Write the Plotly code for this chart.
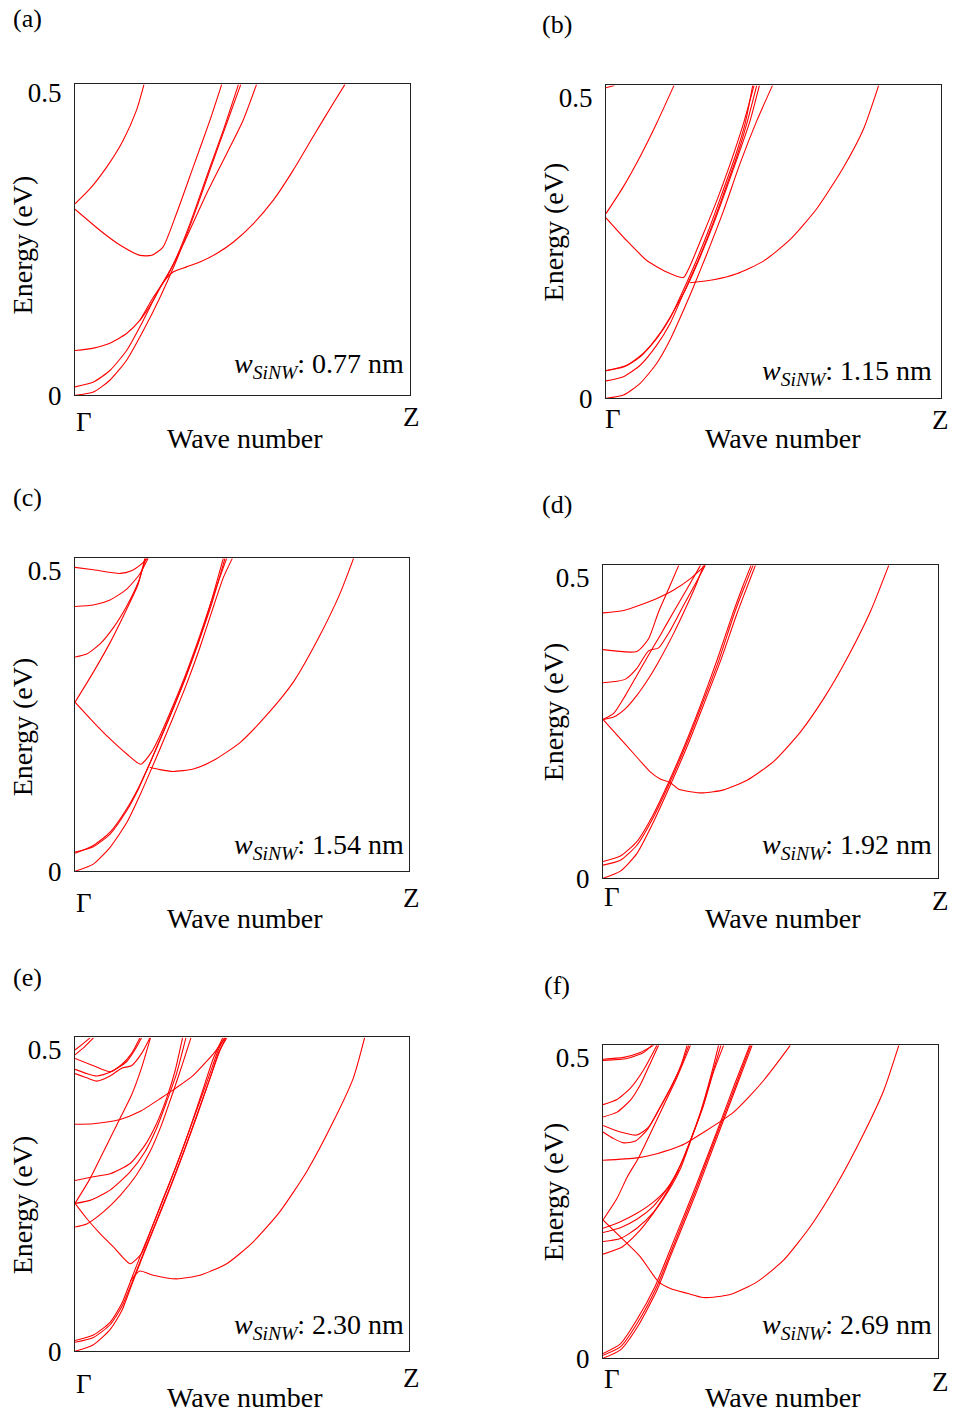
import plotly.graph_objects as go

# ---------------- data: bands as (k fraction of Gamma-Z, energy in eV) ----------------
bands_a = [
    ([0, .045, .095, .144, .184, .206], [.316, .341, .377, .421, .471, .513]),
    ([0, .075, .134, .194, .229, .262, .303, .353, .403, .438], [.307, .272, .248, .231, .231, .244, .300, .377, .454, .513]),
    ([0, .055, .104, .154, .204, .254, .303, .353, .403, .453, .495], [0, .0055, .025, .058, .107, .162, .223, .294, .372, .449, .513]),
    ([0, .055, .104, .154, .204, .244, .294, .343, .393, .443, .488], [.014, .022, .041, .074, .124, .168, .217, .283, .361, .438, .513]),
    ([0, .055, .104, .154, .194, .234, .264, .294, .333, .373, .423, .473, .532, .592, .652, .711, .771, .806],
     [.074, .078, .086, .102, .124, .157, .187, .204, .212, .220, .234, .253, .283, .322, .372, .427, .482, .513]),
    ([.194, .234, .274, .333, .393, .453, .502, .542], [.124, .162, .195, .261, .333, .399, .454, .513]),
]

bands_b = [
    ([0, .025], [.516, .52]),
    ([0, .051, .102, .152, .203], [.307, .351, .402, .458, .520]),
    ([0, .062, .122, .181, .231, .249, .291, .331, .371, .410, .442], [.300, .262, .229, .210, .201, .218, .274, .329, .390, .456, .520]),
    ([.251, .321, .390, .470, .550, .629, .709, .769, .814], [.192, .197, .207, .228, .264, .315, .384, .448, .520]),
    ([0, .052, .102, .151, .191, .231, .261, .301, .351, .400, .450, .497], [0, .0055, .025, .058, .097, .146, .185, .240, .312, .390, .461, .520]),
    ([0, .052, .102, .151, .191, .231, .271, .311, .351, .390, .420, .450], [.029, .036, .055, .088, .124, .174, .224, .279, .340, .401, .456, .520]),
    ([0, .052, .102, .151, .191, .231, .266, .306, .346, .385, .415, .438], [.046, .052, .069, .099, .133, .180, .224, .279, .340, .401, .456, .520]),
    ([0, .062, .112, .161, .201, .241, .281, .321, .361, .400, .430, .458], [.046, .055, .075, .108, .144, .185, .235, .290, .351, .412, .461, .520]),
]

bands_c = [
    ([0, .055, .135, .169, .204, .216], [.505, .501, .495, .4995, .513, .52]),
    ([0, .055, .105, .155, .194, .219], [.440, .4425, .451, .469, .494, .52]),
    ([0, .035, .075, .115, .155, .189, .212], [.356, .361, .378, .405, .441, .480, .52]),
    ([0, .055, .105, .155, .189, .209], [.281, .331, .380, .436, .477, .52]),
    ([0, .055, .105, .155, .197, .229, .254, .294, .334, .374, .414, .454], [.281, .248, .220, .195, .178, .198, .225, .276, .331, .392, .458, .52]),
    ([.224, .254, .294, .354, .414, .494, .573, .653, .733, .793, .834], [.173, .169, .166, .170, .184, .214, .259, .314, .392, .461, .52]),
    ([0, .055, .105, .155, .194, .224, .254, .294, .334, .374, .414, .444, .471], [0, .012, .040, .081, .126, .164, .203, .256, .311, .372, .439, .488, .52]),
    ([0, .055, .105, .155, .190, .219, .249, .289, .329, .369, .404, .444], [.032, .041, .062, .101, .137, .173, .212, .264, .320, .380, .441, .52]),
    ([0, .055, .105, .155, .192, .222, .252, .292, .332, .372, .409, .449], [.030, .043, .065, .104, .141, .177, .215, .268, .323, .384, .444, .52]),
]

bands_d = [
    ([0, .062, .111, .161, .211, .261, .305], [.441, .445, .454, .465, .479, .498, .52]),
    ([0, .101, .136, .166, .196, .226], [.380, .377, .398, .443, .481, .52]),
    ([0, .042, .067, .101, .136, .166, .201, .241, .281, .305], [.325, .3275, .331, .349, .378, .383, .412, .454, .495, .52]),
    ([0, .032, .067, .101, .136, .171, .211, .251, .291], [.264, .274, .304, .337, .371, .404, .443, .481, .52]),
    ([0, .032, .067, .101, .136, .171, .211, .251, .281, .300], [.264, .268, .282, .304, .332, .365, .407, .454, .492, .52]),
    ([0, .042, .092, .141, .171, .201, .226, .261, .300, .360, .430, .509, .589, .659, .728, .798, .853],
     [.264, .238, .207, .177, .165, .159, .148, .144, .142, .147, .163, .194, .243, .299, .365, .443, .52]),
    ([0, .052, .101, .151, .201, .251, .300, .350, .400, .430, .455], [0, .012, .041, .094, .155, .219, .288, .360, .440, .484, .52]),
    ([0, .052, .101, .151, .196, .246, .295, .345, .392, .422, .448], [.022, .030, .055, .102, .155, .219, .288, .361, .440, .484, .52]),
    ([0, .052, .101, .149, .193, .243, .292, .340, .388, .417, .442], [.028, .037, .061, .105, .156, .220, .289, .362, .441, .485, .52]),
]

bands_e = [
    ([0, .025, .045], [.499, .510, .519]),
    ([0, .030, .055], [.491, .505, .519]),
    ([0, .055, .105, .140, .169, .194], [.485, .473, .463, .475, .493, .519]),
    ([0, .035, .065, .105, .155, .179, .199], [.467, .460, .456, .462, .480, .499, .519]),
    ([0, .035, .065, .105, .140, .169, .199, .224], [.460, .453, .4475, .456, .469, .473, .493, .519]),
    ([0, .055, .135, .194, .259, .294, .354, .419, .449], [.376, .377, .384, .397, .420, .433, .457, .496, .519]),
    ([0, .045, .090, .135, .169, .199, .226], [.245, .286, .336, .386, .424, .469, .519]),
    ([0, .055, .105, .165, .209, .244, .274, .299, .322], [.283, .289, .294, .311, .341, .377, .419, .463, .519]),
    ([0, .045, .105, .165, .209, .244, .274, .304, .332], [.245, .250, .267, .297, .330, .369, .413, .460, .519]),
    ([0, .035, .085, .135, .184, .224, .259, .289, .319, .347], [.206, .211, .231, .258, .292, .330, .375, .422, .471, .519]),
    ([0, .035, .075, .115, .165, .199, .229, .264, .304, .344, .384, .414, .442], [.245, .220, .195, .173, .145, .162, .203, .253, .308, .369, .435, .485, .519]),
    ([.165, .194, .234, .304, .374, .454, .533, .613, .693, .773, .833, .867], [.116, .133, .126, .120, .126, .145, .181, .231, .297, .380, .452, .519]),
    ([0, .055, .105, .140, .169, .204, .244, .284, .324, .364, .404, .431, .454], [0, .011, .036, .067, .109, .159, .214, .269, .327, .388, .452, .496, .519]),
    ([0, .055, .105, .140, .167, .202, .242, .282, .322, .362, .402, .429, .447], [.018, .027, .048, .079, .117, .167, .221, .277, .335, .396, .457, .499, .519]),
    ([0, .055, .105, .142, .171, .206, .246, .286, .326, .366, .406, .433, .451], [.015, .023, .044, .076, .115, .164, .219, .274, .332, .393, .455, .497, .519]),
]

bands_f = [
    ([0, .062, .111, .151], [.497, .500, .508, .520]),
    ([0, .072, .121, .146], [.495, .498, .508, .520]),
    ([0, .042, .082, .121, .161], [.4215, .430, .449, .479, .520]),
    ([0, .042, .082, .111, .141, .166], [.401, .409, .429, .454, .490, .520]),
    ([0, .052, .101, .136, .171, .206, .236, .256], [.387, .376, .371, .384, .418, .454, .490, .520]),
    ([0, .032, .062, .097, .131, .166, .201, .231, .251], [.376, .365, .358, .361, .379, .412, .448, .484, .520]),
    ([0, .101, .161, .231, .261, .310, .360, .390, .430, .480, .519, .559], [.329, .333, .340, .353, .362, .379, .397, .409, .431, .462, .490, .520]),
    ([0, .042, .072, .106, .141, .181, .221, .261], [.230, .266, .301, .333, .373, .420, .467, .520]),
    ([0, .052, .101, .151, .191, .226, .261, .291, .320, .345], [.216, .227, .241, .260, .282, .315, .362, .409, .465, .520]),
    ([0, .052, .101, .151, .196, .231, .263, .296, .325, .352], [.209, .217, .231, .253, .285, .321, .365, .415, .470, .520]),
    ([0, .052, .101, .151, .196, .231, .266, .300, .330, .360], [.194, .199, .216, .243, .279, .315, .368, .420, .476, .520]),
    ([0, .057, .101, .146, .191, .226], [.173, .185, .207, .238, .277, .313]),
    ([0, .057, .111, .166, .201, .251, .300, .380, .460, .539, .619, .699, .778, .838, .883],
     [.230, .199, .169, .127, .116, .108, .101, .106, .127, .163, .219, .290, .373, .445, .520]),
    ([0, .052, .106, .161, .201, .241, .281, .320, .360, .400, .445], [0, .014, .055, .113, .169, .224, .279, .337, .396, .454, .520]),
    ([0, .052, .104, .158, .198, .238, .278, .317, .357, .397, .441], [.005, .019, .060, .116, .170, .226, .281, .339, .397, .455, .520]),
    ([0, .052, .101, .155, .195, .235, .275, .315, .355, .394, .438], [.008, .024, .064, .119, .173, .228, .283, .341, .399, .457, .520]),
]

panel_letters = ["(a)", "(b)", "(c)", "(d)", "(e)", "(f)"]
widths = ["0.77", "1.15", "1.54", "1.92", "2.30", "2.69"]
y_tick_vals = [0, 0.5]
y_tick_text = ["0", "0.5"]
all_bands = [bands_a, bands_b, bands_c, bands_d, bands_e, bands_f]

# ---------------- layout (target page pixels) ----------------
W, H = 954, 1414
boxes = [(75, 84, 410, 395), (606, 85, 941, 398), (75, 558, 409, 871),
         (603, 565, 938, 878), (75, 1037, 409, 1351), (603, 1045, 938, 1358)]
emax = [0.513, 0.52, 0.52, 0.52, 0.52, 0.52]
letter_pos = [(27, 18), (557, 24), (27, 497), (557, 504), (27, 977), (557, 985)]
gamma_pos = [(84, 422), (613, 419), (84, 903), (612, 897), (84, 1384), (612, 1379)]
z_pos = [(411, 417), (940, 420), (411, 898), (940, 901), (411, 1378), (940, 1382)]
wave_pos = [(245, 438), (783, 438), (245, 918), (783, 918), (245, 1397), (783, 1397)]
energy_pos = [(22, 245), (553, 232), (22, 727), (553, 712), (22, 1205), (553, 1192)]
wlabel_pos = [(406, 365), (934, 372), (406, 846), (934, 846), (406, 1326), (934, 1326)]

# the photographed page is slightly squeezed vertically; compensate
Y_OFF, Y_SCALE = 6.6, 0.9845

FONT = "Liberation Serif"
fig = go.Figure()
annotations = []

def px(x):
    return x / W

def py(y):
    return 1 - ((y - Y_OFF) / Y_SCALE) / H

for i, bands in enumerate(all_bands):
    n = "" if i == 0 else str(i + 1)
    x0, y0, x1, y1 = boxes[i]
    for ks, es in bands:
        fig.add_trace(go.Scatter(x=ks, y=es, mode="lines", xaxis="x" + n, yaxis="y" + n,
                                 line=dict(color="#ff0000", width=1.1, shape="spline", smoothing=0.6),
                                 showlegend=False, hoverinfo="skip"))
    fig.layout["xaxis" + n] = dict(domain=[px(x0), px(x1)], range=[0, 1], anchor="y" + n,
                                   showline=True, mirror=True, linecolor="#222", linewidth=1.4,
                                   showgrid=False, zeroline=False, showticklabels=False, ticks="")
    fig.layout["yaxis" + n] = dict(domain=[py(y1), py(y0)], range=[0, emax[i]], anchor="x" + n,
                                   showline=True, mirror=True, linecolor="#222", linewidth=1.4,
                                   showgrid=False, zeroline=False, ticks="",
                                   tickvals=y_tick_vals, ticktext=y_tick_text,
                                   ticklabelstandoff=7,
                                   tickfont=dict(family=FONT, size=27, color="black"))
    def ann(pos, text, xanchor="center", angle=0, size=27):
        annotations.append(dict(x=px(pos[0]), y=py(pos[1]), xref="paper", yref="paper",
                                text=text, showarrow=False, xanchor=xanchor, yanchor="middle",
                                textangle=angle, font=dict(family=FONT, size=size, color="black")))
    ann(letter_pos[i], panel_letters[i], size=26)
    ann(gamma_pos[i], "Γ")
    ann(z_pos[i], "Z")
    ann(wave_pos[i], "Wave number", size=28)
    ann(energy_pos[i], "Energy (eV)", angle=-90, size=28)
    ann(wlabel_pos[i], "<i>w</i><sub><i>SiNW</i></sub>: " + widths[i] + " nm", xanchor="right", size=28)

fig.update_layout(width=W, height=H, margin=dict(l=0, r=0, t=0, b=0),
                  paper_bgcolor="white", plot_bgcolor="white", annotations=annotations)
fig.write_html("out.html", config={"displayModeBar": False},
               post_script="document.body.style.margin='0';document.body.style.padding='0';"
                           "document.documentElement.style.overflow='hidden';")
